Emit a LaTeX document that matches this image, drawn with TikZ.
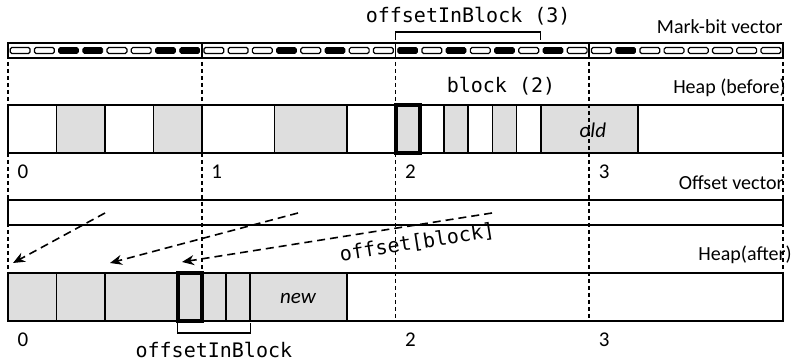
\documentclass[tikz,border=0pt]{standalone}
\usepackage{fontspec}
\setmainfont{Carlito}
\setmonofont{DejaVu Sans Mono}
\usetikzlibrary{arrows.meta}

\tikzset{
  vec/.style={draw, line width=0.8pt},
  bit0/.style={draw, line width=0.6pt, rounded corners=0.8pt},
  bit1/.style={fill=black, rounded corners=0.8pt},
  heapbox/.style={draw, line width=0.8pt, fill=white},
  live/.style={draw, line width=0.8pt, fill=black!13},
  picked/.style={draw, line width=2pt, fill=black!13},
  guide/.style={line width=0.9pt, dash pattern=on 2pt off 1.5pt},
  fwd/.style={line width=0.8pt, dash pattern=on 4pt off 2.5pt, -{Stealth[length=6pt,width=5pt]}},
  brk/.style={line width=0.6pt},
  lbl/.style={font=\fontsize{10}{12}\selectfont, inner sep=0pt},
  num/.style={font=\fontsize{10.5}{12}\selectfont, inner sep=0pt, anchor=west},
  code/.style={font=\fontsize{10}{12}\selectfont\ttfamily, inner sep=0pt},
}

\begin{document}
\begin{tikzpicture}[x=0.5pt,y=-0.5pt]
  \useasboundingbox (0,0) rectangle (793,363);
  \begin{scope}[xshift=4pt,x=12.11pt]
    % mark-bit vector
    \draw[vec] (0,43) rectangle (32,58);
    \foreach \b [count=\i from 0] in {0,0,1,1,0,0,1,1, 0,0,0,1,0,1,0,0, 1,0,1,0,1,0,1,0, 0,1,0,0,0,0,0,0}
      \draw[bit\b] (\i+0.09,47.5) rectangle (\i+0.91,53.5);
    \foreach \k in {8,16,24} \draw[vec] (\k,43) -- (\k,58);
    \draw[brk] (16,40) -- (16,32) -- (22,32) -- (22,40);
    \node[code] (obtop) at (19,16) {offsetInBlock (3)};

    % heap before
    \draw[heapbox] (0,105) rectangle (32,153);
    \foreach \a/\z in {2/4, 6/8, 11/14, 18/19, 20/21, 22/26}
      \draw[live] (\a,105) rectangle (\z,153);
    \draw[picked] (16,105) rectangle (17,153);
    \node[lbl, font=\fontsize{10.5}{12}\selectfont\itshape] (old) at (24.15,130) {old};

    % offset vector
    \draw[vec] (0,200) rectangle (32,225);

    % heap after
    \draw[heapbox] (0,273) rectangle (32,321);
    \foreach \a/\z in {0/2, 2/4, 4/7, 8/9, 9/10, 10/14}
      \draw[live] (\a,273) rectangle (\z,321);
    \draw[picked] (7,273) rectangle (8,321);
    \node[lbl, font=\fontsize{10.5}{12}\selectfont\itshape] (new) at (11.97,298) {new};
    \draw[brk] (7,323) -- (7,333) -- (10,333) -- (10,323);
    \node[code] (obbot) at (8.5,350) {offsetInBlock};

    \foreach \k in {0,8,...,32} \draw[guide] (\k,62) -- (\k,321);

    \foreach \k/\t in {0/0, 8/1, 16/2, 24/3}
      \node[num] (top\t) at (\k+0.38,172) {\t};
    \foreach \k/\t in {0/0, 16/2, 24/3}
      \node[num] (bot\t) at (\k+0.38,340) {\t};
  \end{scope}

  \node[lbl, anchor=east] (markbit) at (783,27) {Mark-bit vector};
  \node[lbl, anchor=east] (before) at (786,88) {Heap (before)};
  \node[code] (block) at (501,86) {block (2)};
  \node[lbl, anchor=east] (offvec) at (784,183) {Offset vector};
  \node[lbl, anchor=east] (after) at (792,255) {Heap(after)};

  \coordinate (src0) at (105,213);
  \coordinate (dst0) at (13,263);
  \coordinate (src1) at (298,213);
  \coordinate (dst1) at (110,263);
  \coordinate (src2) at (492,213);
  \coordinate (dst2) at (182,262);
  \draw[fwd] (src0) -- (dst0);
  \draw[fwd] (src1) -- (dst1);
  \draw[fwd] (src2) -- node[code, pos=0.25, sloped, below=4pt] (offblk) {offset[block]} (dst2);
\end{tikzpicture}
\end{document}
